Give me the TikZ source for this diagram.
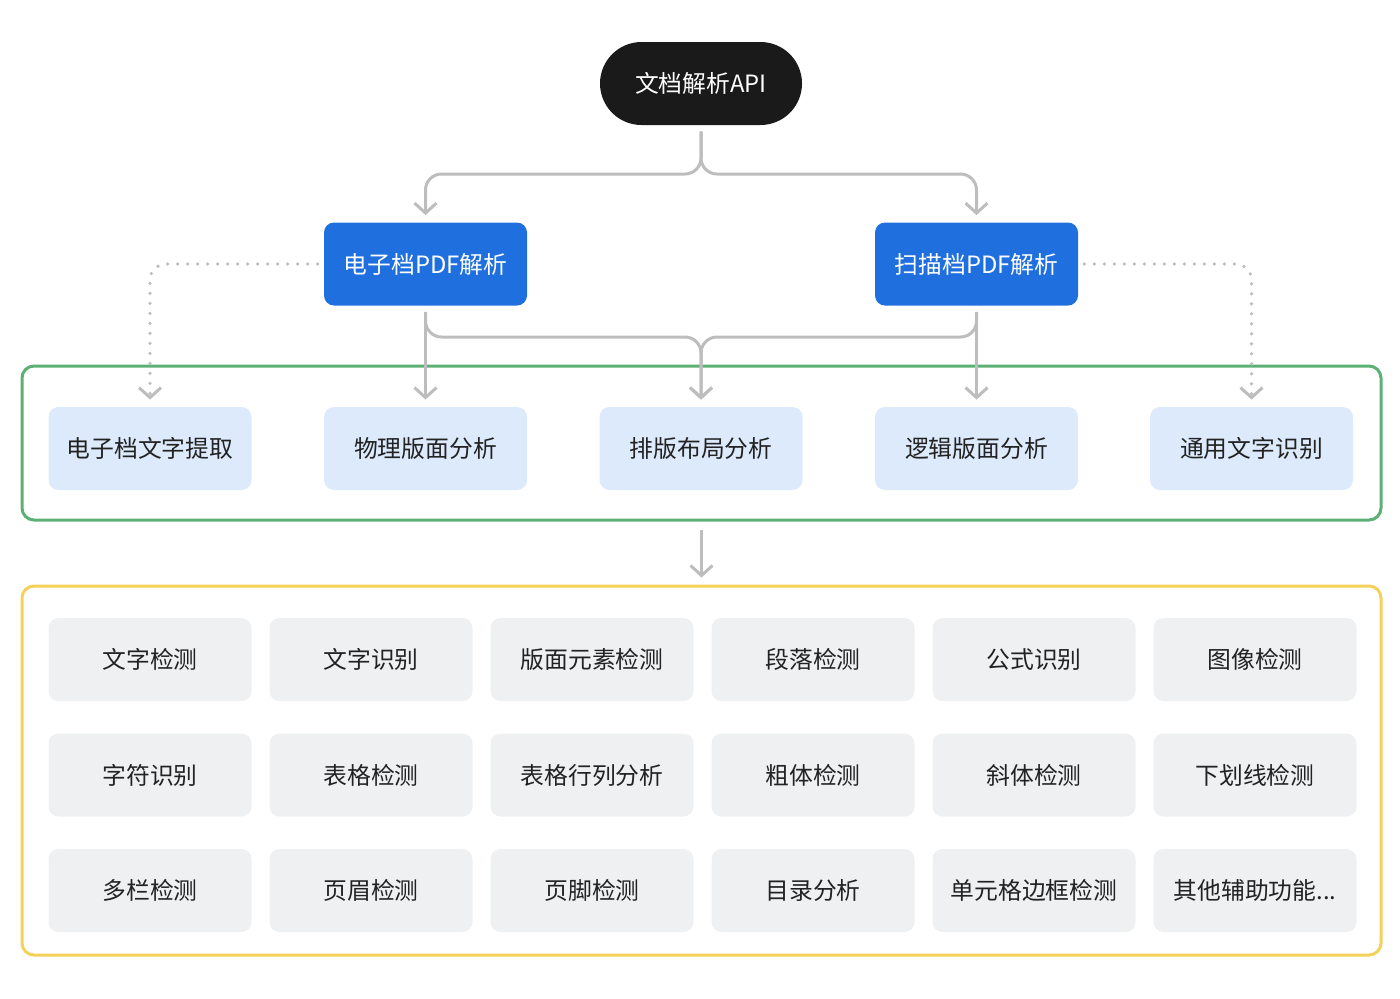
\documentclass[tikz,border=0pt]{standalone}
\usepackage{fontspec}
\newfontfamily\cjk{Noto Sans CJK SC}
\usepackage{tikz}
\usetikzlibrary{arrows.meta, positioning}
\definecolor{pillblack}{HTML}{1A1A1A}
\definecolor{parseblue}{HTML}{1F6FDE}
\definecolor{lightblue}{HTML}{DCEAFB}
\definecolor{boxgray}{HTML}{EEF0F2}
\definecolor{framegreen}{HTML}{5DB075}
\definecolor{frameyellow}{HTML}{F4D15B}
\definecolor{linegray}{HTML}{BDBDBD}
\definecolor{textdark}{HTML}{222222}

\begin{document}
\begin{tikzpicture}[x=0.5pt, y=-0.5pt,
    every node/.style={font=\cjk\fontsize{11.9}{14}\selectfont, inner sep=0pt},
    box/.style={rounded corners=5pt, minimum width=101.5pt, minimum height=41.5pt},
    parse/.style={box, fill=parseblue, text=white},
    func/.style={box, fill=lightblue, text=textdark},
    tool/.style={box, fill=boxgray, text=textdark},
    frame/.style={draw, line width=1.5pt, rounded corners=6pt, minimum width=679.5pt, minimum height=77pt},
    conn/.style={draw=linegray, line width=1.5pt, rounded corners=8pt,
        -{Straight Barb[length=5pt, width=11pt, line width=1.5pt]}, shorten >=3.5pt, shorten <=3pt},
    dotconn/.style={conn, line width=1.8pt, dash pattern=on 0pt off 5pt, line cap=round}]
    \useasboundingbox (0,0) rectangle (1400,998);

    % top
    \node[fill=pillblack, text=white, rounded corners=20.75pt, minimum width=101pt, minimum height=41.5pt] (api) at (701,83.5) {文档解析API};
    \coordinate (split) at (701,174);
    \node[parse] (edoc) at (425.5,264) {电子档PDF解析};
    \node[parse] (scan) at (976.5,264) {扫描档PDF解析};

    \draw[conn] (api.south) -- (split) -| (edoc.north);
    \draw[conn] (api.south) -- (split) -| (scan.north);

    % functions
    \node[frame, draw=framegreen] (tier1) at (701.5,443) {};
    \node[func] (etext) at (150,448.5) {电子档文字提取};
    \node[func] (phys) at (425.5,448.5) {物理版面分析};
    \node[func] (layout) at (701,448.5) {排版布局分析};
    \node[func] (logic) at (976.5,448.5) {逻辑版面分析};
    \node[func] (ocr) at (1251.5,448.5) {通用文字识别};
    \coordinate (merge) at (701,337);

    \draw[conn] (edoc.south) -- (phys.north);
    \draw[conn] (scan.south) -- (logic.north);
    \draw[conn] (edoc.south) |- (merge) -- (layout.north);
    \draw[conn] (scan.south) |- (merge) -- (layout.north);
    \draw[dotconn] (edoc.west) -| (etext.north);
    \draw[dotconn] (scan.east) -| (ocr.north);

    % tools
    \node[frame, draw=frameyellow, minimum height=184.5pt] (tier2) at (701.5,770.5) {};
    \draw[conn, shorten <=4pt] (tier1.south) -- (tier2.north);

    \node[tool] (m11) at (150,659.5) {文字检测};
    \node[tool] (m12) at (371,659.5) {文字识别};
    \node[tool] (m13) at (592,659.5) {版面元素检测};
    \node[tool] (m14) at (813,659.5) {段落检测};
    \node[tool] (m15) at (1034,659.5) {公式识别};
    \node[tool] (m16) at (1255,659.5) {图像检测};

    \node[tool] (m21) at (150,775) {字符识别};
    \node[tool] (m22) at (371,775) {表格检测};
    \node[tool] (m23) at (592,775) {表格行列分析};
    \node[tool] (m24) at (813,775) {粗体检测};
    \node[tool] (m25) at (1034,775) {斜体检测};
    \node[tool] (m26) at (1255,775) {下划线检测};

    \node[tool] (m31) at (150,890.5) {多栏检测};
    \node[tool] (m32) at (371,890.5) {页眉检测};
    \node[tool] (m33) at (592,890.5) {页脚检测};
    \node[tool] (m34) at (813,890.5) {目录分析};
    \node[tool] (m35) at (1034,890.5) {单元格边框检测};
    \node[tool] (m36) at (1255,890.5) {其他辅助功能...};
\end{tikzpicture}
\end{document}
